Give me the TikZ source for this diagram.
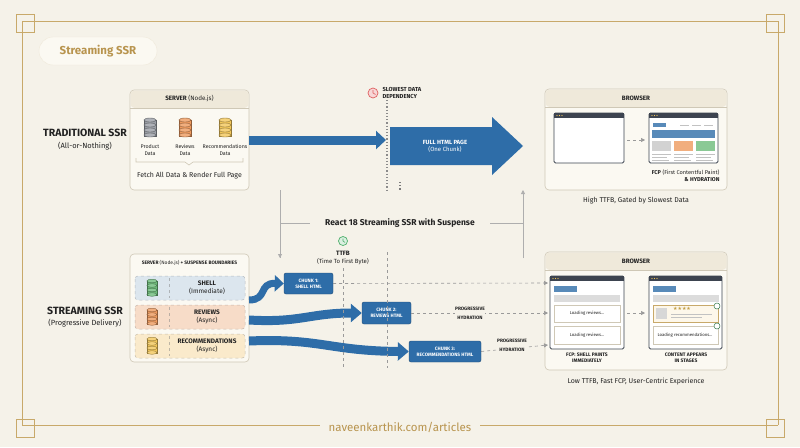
\documentclass[tikz,border=0pt]{standalone}
\usepackage{fontspec}
\setmainfont{Fira Sans}
\newfontfamily\symf{DejaVu Sans}
\usetikzlibrary{arrows.meta,shapes.geometric}
\definecolor{bg}{HTML}{F5F2E9}
\definecolor{gold}{HTML}{C8A96A}
\definecolor{goldt}{HTML}{B8944E}
\definecolor{blu}{HTML}{2E6DA8}
\definecolor{boxf}{HTML}{FBF9F2}
\definecolor{hdr}{HTML}{EFE9DA}
\definecolor{edge}{HTML}{CFC8B6}
\definecolor{ink}{HTML}{222222}
\definecolor{winb}{HTML}{3D4450}
\definecolor{gr}{HTML}{9A9A9A}
\definecolor{sb}{HTML}{DCE6EE}
\definecolor{so}{HTML}{F7DCC8}
\definecolor{sy}{HTML}{FAEACB}
\definecolor{dbg}{HTML}{6DBB7A}
\definecolor{dbo}{HTML}{EE9A5E}
\definecolor{dby}{HTML}{F2C75A}
\definecolor{dbgr}{HTML}{9A9EA5}
\definecolor{redc}{HTML}{E06060}
\definecolor{grn}{HTML}{4CAF6A}
\tikzset{
 card/.style={draw=edge,fill=boxf,rounded corners=4pt,line width=0.6pt},
 lbl/.style={font=\bfseries\fontsize{10.5}{11}\selectfont,text=ink,align=center},
 sub/.style={font=\fontsize{7.5}{9}\selectfont,text=ink,align=center},
 tiny/.style={font=\fontsize{5.3}{6.3}\selectfont,text=ink,align=center},
 tinyb/.style={font=\bfseries\fontsize{5}{6}\selectfont,text=ink,align=center},
 chunk/.style={fill=blu,draw=blu!70!black,rounded corners=2pt,text=white,font=\bfseries\fontsize{4.8}{5.8}\selectfont,align=center,inner sep=1pt},
 flow/.style={draw=blu,line width=9pt,-{Triangle[width=18pt,length=10pt]}},
 dsh/.style={draw=gr,dashed,line width=0.6pt},
 dasharr/.style={draw=gr,dashed,line width=0.6pt,-{Triangle[width=4pt,length=4pt]}},
 gline/.style={draw=gr!80,line width=0.8pt},
}
\newcommand\dbicon[3]{%
 \fill[#3,draw=#3!60!black,line width=0.4pt] (#1-6,#2-8) rectangle (#1+6,#2+8);
 \foreach \k in {-8,-3,2,7}{\draw[#3!60!black,line width=0.4pt,fill=#3!80!white] (#1,#2+\k) ellipse (6pt and 2pt);}
}
\newcommand\win[4]{%
 \draw[winb,fill=white,rounded corners=1.5pt,line width=0.8pt] (#1,#2) rectangle (#3,#4);
 \fill[winb] (#1,#2) rectangle (#3,#2+5);
 \foreach \d in {3,5.5,8}{\fill[dby] (#1+\d,#2+2.5) circle (0.7pt);}
}
\begin{document}
\begin{tikzpicture}[x=1pt,y=-1pt]
\fill[bg] (0,0) rectangle (800,447);
\useasboundingbox (0,0) rectangle (800,447);
% frame
\draw[gold,line width=0.8pt] (22,21) -- (778,21) (22,21) -- (22,425) (778,21) -- (778,425)
 (22,425) -- (320,425) (480,425) -- (778,425);
\foreach \cx/\cy in {16/14,766/14,16/419,766/419}{\draw[gold,line width=0.7pt] (\cx,\cy) rectangle ++(18,18);}
\node[font=\fontsize{11.5}{12}\selectfont,text=goldt] (foot) at (400,427) {naveenkarthik.com/articles};
% title
\node[fill=boxf,draw=hdr,rounded corners=14pt,minimum width=118pt,minimum height=28pt,font=\bfseries\fontsize{11.5}{12}\selectfont,text=goldt] (title) at (98,51) {Streaming SSR};
% ===== traditional
\node[lbl] (tl) at (85,133) {TRADITIONAL SSR};
\node[sub] (tl2) at (85,146) {(All-or-Nothing)};
\draw[card] (130,90) rectangle (249,190);
\fill[hdr,rounded corners=4pt] (130.5,90.5) rectangle (248.5,108);
\draw[edge] (130,108) -- (249,108);
\node[tinyb,font=\bfseries\fontsize{6.3}{7}\selectfont] (srv1) at (189.5,99) {SERVER {\mdseries(Node.js)}};
\dbicon{150}{128}{dbgr}\dbicon{185}{128}{dbo}\dbicon{225}{128}{dby}
\node[tiny] at (150,150) {Product\\Data};
\node[tiny] at (185,150) {Reviews\\Data};
\node[tiny] at (225,150) {Recommendations\\Data};
\draw[edge,line width=0.6pt] (136,158) -- (136,162) -- (185,162) -- (189,165) -- (193,162) -- (243,162) -- (243,158);
\node[sub,font=\fontsize{7}{8}\selectfont] at (189.5,176) {Fetch All Data \& Render Full Page};
\coordinate (slow) at (386,140);
\path[flow] (249,140) -- (slow);
\draw[gr!90!black,dotted,line width=1.2pt] (387,100) -- (387,190);
\draw[redc,fill=redc!25,line width=0.7pt] (373,93) circle (5pt);
\draw[redc,line width=0.6pt] (373,90) -- (373,93) -- (375.5,94.5);
\node[tinyb,anchor=west,align=left,font=\bfseries\fontsize{5.8}{6.5}\selectfont] at (379,93) {SLOWEST DATA\\DEPENDENCY};
\fill[blu] (390,127) -- (492,127) -- (492,117) -- (523,146) -- (492,175) -- (492,165) -- (390,165) -- cycle;
\node[text=white,font=\bfseries\fontsize{6}{7}\selectfont,align=center] (full) at (445,146) {FULL HTML PAGE\\{\mdseries(One Chunk)}};
% browser top
\draw[card] (545,89) rectangle (727,190);
\fill[hdr,rounded corners=4pt] (545.5,89.5) rectangle (726.5,107);
\draw[edge] (545,107) -- (727,107);
\node[tinyb,font=\bfseries\fontsize{6.3}{7}\selectfont] (b1) at (636,98) {BROWSER};
\win{554}{113}{624}{163}
\win{649}{113}{718}{163}
\draw[dasharr] (627,140) -- (645,140);
\fill[blu!80] (653,123) rectangle (666,127);
\foreach \xx in {680,692,704}{\draw[gr!60] (\xx,125) -- (\xx+9,125);}
\fill[blu!80] (652,130) rectangle (715,138);
\fill[gr!45] (652,141) rectangle (671,151);
\fill[dbo!80] (674,141) rectangle (693,151);
\fill[dbg!80] (696,141) rectangle (715,151);
\foreach \xx in {652,674,696}{\draw[gr!60] (\xx,154) -- (\xx+19,154) (\xx,157) -- (\xx+15,157) (\xx,160) -- (\xx+17,160);}
\node[tiny,anchor=east,align=right,font=\fontsize{5.6}{6.8}\selectfont] at (723,176) {\textbf{FCP} (First Contentful Paint)\\\textbf{\& HYDRATION}};
\node[sub,font=\fontsize{7}{8}\selectfont] at (636,201) {High TTFB, Gated by Slowest Data};
% ===== middle
\draw[gr!80!black,dotted,line width=1.2pt] (400,182) -- (400,190);
\node[font=\bfseries\fontsize{8.5}{9}\selectfont,text=ink] (react) at (400,223) {React 18 Streaming SSR with Suspense};
\draw[gline] (280,190) -- (280,258);
\draw[gline,-{Triangle[width=4pt,length=4pt]}] (280,246) -- (280,258);
\draw[gline] (280,223) -- (310,223) (490,223) -- (523,223);
\draw[gline,-{Triangle[width=4pt,length=4pt]}] (523,258) -- (523,190);
% ===== streaming
\node[lbl] (sl) at (85,311) {STREAMING SSR};
\node[sub] (sl2) at (85,323) {(Progressive Delivery)};
\draw[card] (130,254) rectangle (249,362);
\node[tinyb,font=\bfseries\fontsize{4.9}{6}\selectfont] at (189.5,263) {SERVER {\mdseries(Node.js)} + SUSPENSE BOUNDARIES};
\foreach \yy/\cc/\ic/\t/\s in {276/sb/dbg/SHELL/Immediate,305/so/dbo/REVIEWS/Async,334/sy/dby/RECOMMENDATIONS/Async}{
 \draw[fill=\cc,draw=\cc!60!gray,dashed,rounded corners=3pt,line width=0.5pt] (135,\yy) rectangle (245,\yy+24);
 \draw[\cc!50!gray,dashed,line width=0.5pt] (169,\yy+2) -- (169,\yy+22);
 \fill[\ic,draw=\ic!60!black,line width=0.4pt] (147,\yy+5) rectangle (157,\yy+19);
 \foreach \k in {5,9.5,14,18.5}{\draw[\ic!60!black,line width=0.4pt,fill=\ic!80!white] (152,\yy+\k) ellipse (5pt and 1.8pt);}
 \node[tiny,font=\fontsize{6.5}{8}\selectfont] at (207,\yy+12) {\textbf{\t}\\(\s)};
}
\coordinate (s1) at (249,300);
\coordinate (s2) at (249,320);
\coordinate (s3) at (249,341);
\node[chunk,minimum width=49pt,minimum height=21pt] (c1) at (308.5,283.5) {CHUNK 1:\\SHELL HTML};
\node[chunk,minimum width=49pt,minimum height=22pt] (c2) at (386.5,313) {CHUNK 2:\\REVIEWS HTML};
\node[chunk,minimum width=72pt,minimum height=21pt] (c3) at (445,351.5) {CHUNK 3:\\RECOMMENDATIONS HTML};
\draw[blu,line width=7pt,-{Triangle[width=16pt,length=9pt]}] (s1) .. controls (268,300) and (258,283) .. (c1.west);
\draw[blu,line width=9pt,-{Triangle[width=18pt,length=11pt]}] (s2) .. controls (300,323) and (310,313) .. (c2.west);
\draw[blu,line width=9pt,-{Triangle[width=18pt,length=11pt]}] (s3) .. controls (320,338) and (330,351) .. (c3.west);
\draw[dsh] (343,268) -- (343,368);
\draw[dsh] (387,252) -- (387,368);
\draw[grn,fill=grn!20,line width=0.7pt] (343,241) circle (4.5pt);
\draw[grn,line width=0.6pt] (343,238.5) -- (343,241) -- (345,242.5);
\node[tinyb,font=\bfseries\fontsize{6.3}{7}\selectfont] (ttfb) at (343,253) {TTFB};
\node[tiny,font=\fontsize{6}{7}\selectfont] at (343,262) {(Time To First Byte)};
% browser bottom
\draw[card] (545,252) rectangle (727,370);
\fill[hdr,rounded corners=4pt] (545.5,252.5) rectangle (726.5,270);
\draw[edge] (545,270) -- (727,270);
\node[tinyb,font=\bfseries\fontsize{6.3}{7}\selectfont] (b2) at (636,261) {BROWSER};
\coordinate (b2a) at (548,283);\coordinate (b2b) at (548,313);\coordinate (b2c) at (548,345);
\draw[dasharr] (c1.east) -- (b2a);
\draw[dasharr] (c2.east) -- (b2b);
\draw[dasharr] (c3.east) -- (b2c);
\node[tinyb,font=\bfseries\fontsize{4.8}{9}\selectfont,fill=bg,inner sep=0.5pt] at (470,313) {PROGRESSIVE\\HYDRATION};
\node[tinyb,font=\bfseries\fontsize{4.8}{9}\selectfont,fill=bg,inner sep=0.5pt] at (512,345) {PROGRESSIVE\\HYDRATION};
\win{550}{276}{624}{349}
\win{649}{276}{722}{349}
\draw[dasharr] (627,313) -- (645,313);
\foreach \ox in {550,649}{
 \fill[blu!80] (\ox+4,286) rectangle (\ox+27,292);
 \fill[gr!35] (\ox+4,295) rectangle (\ox+70,302);
}
\draw[edge,fill=white] (554,305) rectangle (620,322);
\node[tiny,font=\fontsize{4.3}{5}\selectfont] at (587,313.5) {Loading reviews...};
\draw[edge,fill=white] (554,326) rectangle (620,344);
\node[tiny,font=\fontsize{4.3}{5}\selectfont] at (587,335) {Loading reviews...};
\draw[gold,fill=sy!40] (653,305) rectangle (718,322);
\fill[gr!40] (656,308) rectangle (667,319);
\node[font=\symf\fontsize{5}{6}\selectfont,text=dby!80!black] at (682,309) {★★★★};
\draw[gr!60] (671,314) -- (712,314) (671,317.5) -- (702,317.5);
\draw[edge,fill=white] (653,326) rectangle (718,344);
\node[tiny,font=\fontsize{4.3}{5}\selectfont] at (685,335) {Loading recommendations...};
\draw[grn!70!black,fill=white,line width=0.5pt] (717,306) circle (3pt) (717,326) circle (3pt);
\node[tinyb,font=\bfseries\fontsize{5}{6}\selectfont] at (587,358) {FCP: SHELL PAINTS\\IMMEDIATELY};
\node[tinyb,font=\bfseries\fontsize{5}{6}\selectfont] at (686,358) {CONTENT APPEARS\\IN STAGES};
\node[sub,font=\fontsize{7}{8}\selectfont] at (636,382) {Low TTFB, Fast FCP, User-Centric Experience};
\end{tikzpicture}
\end{document}
